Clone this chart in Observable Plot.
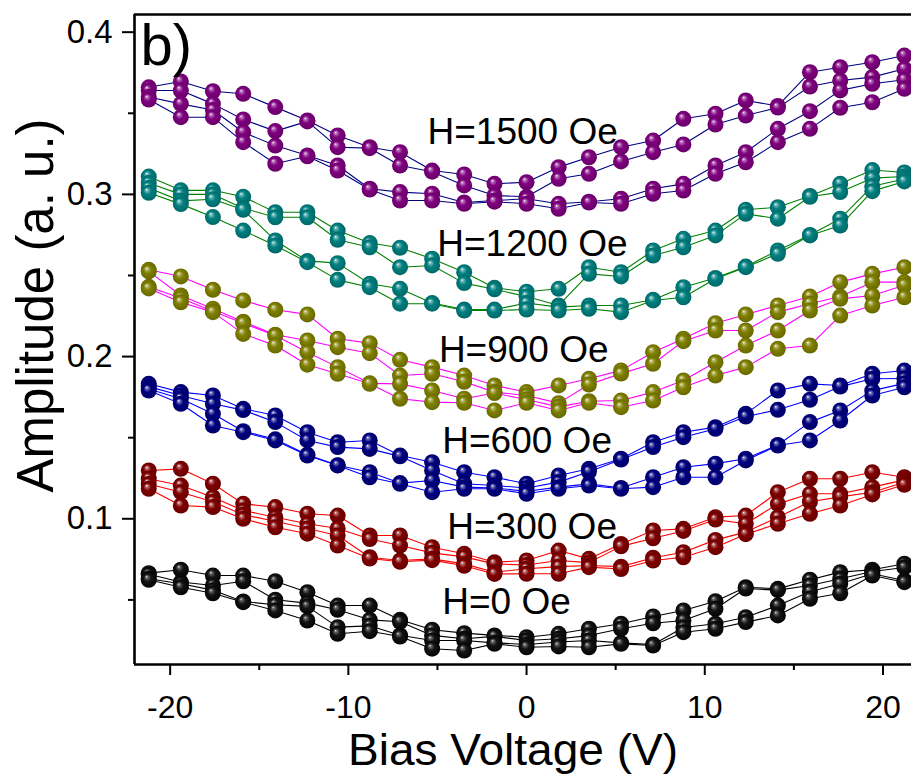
<!DOCTYPE html>
<html><head><meta charset="utf-8">
<script src="https://cdn.jsdelivr.net/npm/d3@7"></script>
<script src="https://cdn.jsdelivr.net/npm/@observablehq/plot@0.6"></script>
<style>body{margin:0;background:#fff}</style>
</head><body><div id="chart"></div>
<script>
// Bias voltage (V) for every sweep
const voltage = [-21.2,-19.4,-17.6,-15.9,-14.1,-12.3,-10.6,-8.8,-7.1,-5.3,-3.5,-1.8,0,1.8,3.5,5.3,7.1,8.8,10.6,12.3,14.1,15.9,17.6,19.4,21.2];

// Amplitude (a.u.), four sweeps per field
const h1500 = [
 [.3660,.3696,.3636,.3620,.3538,.3456,.3363,.3291,.3260,.3147,.3123,.3065,.3075,.3168,.3229,.3291,.3332,.3466,.3497,.3579,.3545,.3753,.3784,.3815,.3856],
 [.3640,.3640,.3558,.3462,.3390,.3450,.3291,.3285,.3178,.3140,.3055,.2993,.2985,.3096,.3127,.3203,.3260,.3308,.3431,.3486,.3535,.3665,.3702,.3723,.3774],
 [.3600,.3558,.3520,.3383,.3301,.3240,.3178,.3035,.3014,.3004,.2950,.2962,.2973,.2942,.2955,.2973,.3035,.3065,.3178,.3260,.3404,.3513,.3641,.3682,.3707],
 [.3585,.3476,.3476,.3322,.3189,.3235,.3147,.3030,.2962,.2962,.2942,.2955,.2942,.2911,.2950,.2942,.3004,.3024,.3127,.3198,.3322,.3404,.3534,.3568,.3651]
];
const h1200 = [
 [.311,.3025,.3025,.2985,.289,.289,.2777,.270,.2671,.2603,.252,.2424,.240,.2418,.2551,.252,.2654,.2726,.2777,.2905,.2921,.2990,.3065,.315,.3135],
 [.307,.300,.300,.2915,.2859,.2859,.272,.2674,.2551,.2562,.2453,.2415,.237,.2315,.251,.2494,.2623,.2674,.2747,.288,.285,.2985,.3014,.310,.311],
 [.304,.296,.297,.2905,.2716,.259,.2576,.2449,.2418,.233,.229,.229,.233,.2305,.2315,.2315,.235,.2428,.2485,.2555,.2654,.275,.285,.305,.3095],
 [.301,.294,.286,.2777,.2685,.2582,.2473,.2428,.2326,.2326,.2284,.2284,.229,.2284,.2295,.2274,.2346,.2366,.248,.2551,.2634,.2747,.2808,.302,.308]
];
const h900 = [
 [.2535,.2494,.2412,.2346,.2289,.2260,.2110,.2083,.1980,.1935,.1883,.1822,.1781,.1822,.1863,.1915,.2027,.2110,.2206,.2260,.2315,.2370,.2459,.2510,.2551],
 [.2525,.2377,.2295,.2215,.2135,.2099,.2058,.2021,.1883,.1894,.1845,.1781,.1760,.1713,.1828,.1895,.1956,.2095,.2161,.2161,.2274,.2326,.2370,.2459,.2459],
 [.2430,.2360,.2280,.2206,.2130,.2027,.1935,.1835,.1832,.1791,.1740,.1775,.1735,.1690,.1725,.1729,.1781,.1853,.1965,.2068,.2161,.2284,.2356,.2377,.2440],
 [.2420,.2335,.2274,.2140,.2068,.1950,.1894,.1832,.1740,.1719,.1715,.1668,.1715,.1668,.1715,.1688,.1729,.1811,.1883,.1935,.2048,.2068,.2253,.2315,.2366]
];
const h600 = [
 [.1832,.1781,.1760,.1678,.1637,.1534,.1472,.1483,.1390,.1349,.1287,.1256,.1216,.1267,.1308,.1370,.1472,.1534,.1565,.1647,.1791,.1832,.1822,.1894,.1914],
 [.1815,.1760,.1709,.1670,.1596,.1483,.1442,.1431,.1385,.1298,.1216,.1205,.1190,.1226,.1290,.1365,.1442,.1503,.1555,.1630,.1672,.1734,.1815,.1863,.1865],
 [.1800,.1740,.1647,.1540,.1490,.1395,.1330,.1287,.1220,.1236,.1195,.1190,.1170,.1195,.1215,.1190,.1256,.1318,.1340,.1370,.1455,.1596,.1668,.1790,.1835],
 [.1791,.1709,.1575,.1534,.1483,.1390,.1329,.1256,.1216,.1164,.1185,.1185,.1154,.1185,.1205,.1185,.1195,.1256,.1256,.1360,.1452,.1483,.1606,.1760,.1811]
];
const h300 = [
 [.1298,.1308,.1216,.1092,.1072,.1031,.1020,.0897,.0897,.0825,.0784,.0732,.0743,.0804,.0753,.0845,.0928,.0938,.1010,.1020,.1164,.1247,.1247,.1287,.1256],
 [.1247,.1205,.1133,.1051,.1010,.0969,.0940,.0875,.0835,.0790,.0765,.0722,.0715,.0743,.0730,.0830,.0880,.0925,.0995,.0969,.1092,.1154,.1154,.1195,.1240],
 [.1215,.1164,.1105,.1025,.0985,.0940,.0897,.0763,.0743,.0753,.0722,.0671,.0692,.0705,.0712,.0705,.0760,.0794,.0870,.0918,.1010,.1105,.1135,.1164,.1225],
 [.1185,.1082,.1072,.1000,.0948,.0908,.0835,.0755,.0735,.0745,.0710,.0660,.0661,.0661,.0702,.0690,.0743,.0763,.0825,.0905,.0969,.1031,.1082,.1150,.1210]
];
const h0 = [
 [.0665,.0686,.0650,.0650,.0615,.0547,.0465,.0465,.0377,.0316,.0295,.0281,.0270,.0291,.0322,.0353,.0398,.0435,.0492,.0578,.0568,.0624,.0671,.0686,.0723],
 [.0658,.0610,.0589,.0615,.0501,.0480,.0439,.0377,.0365,.0281,.0260,.0275,.0250,.0260,.0280,.0322,.0356,.0373,.0445,.0570,.0560,.0589,.0630,.0675,.0700],
 [.0630,.0600,.0560,.0490,.0470,.0460,.0332,.0340,.0282,.0250,.0250,.0235,.0225,.0240,.0250,.0235,.0225,.0330,.0353,.0393,.0465,.0550,.0599,.0661,.0620],
 [.0624,.0578,.0541,.0486,.0435,.0373,.0291,.0307,.0274,.0199,.0188,.0229,.0208,.0213,.0208,.0229,.0219,.0301,.0322,.0363,.0404,.0507,.0541,.0650,.0609]
];

const fieldLabels = ["H=0 Oe","H=300 Oe","H=600 Oe","H=900 Oe","H=1200 Oe","H=1500 Oe"];
const fieldSweeps = [h0, h300, h600, h900, h1200, h1500];
const markerColors = ["#000000","#800000","#000080","#808000","#008080","#800080"];
const lineColors = ["#000000","#ff0000","#0000ff","#ff00ff","#008000","#000080"];
// label anchor (left end, vertical middle) in data units
const labelVoltage = [-4.73,-4.45,-4.73,-4.92,-5.01,-5.56];
const labelAmplitude = [0.0486,0.0948,0.1478,0.2037,0.2695,0.3384];

const yTicks = [0.1,0.2,0.3,0.4];
const yMinor = [0.05,0.15,0.25,0.35];
const xTicks = [-20,-10,0,10,20];
const xMinor = [-15,-5,5,15];

const rows = [];
fieldSweeps.forEach((sweeps, g) => sweeps.forEach((vals, s) => vals.forEach((a, i) =>
  rows.push({V: voltage[i], A: a, g, key: g*10+s}))));
const labels = fieldLabels.map((t, i) => ({t, V: labelVoltage[i], A: labelAmplitude[i]}));

const font = "'Liberation Sans', Arial, Helvetica, sans-serif";
const xDom = [-22, 21.6], yDom = [0.01017, 0.4109];

const marks = [];
fieldSweeps.forEach((_, g) => {
  const d = rows.filter(r => r.g === g);
  marks.push(Plot.line(d, {x: "V", y: "A", z: "key", stroke: lineColors[g], strokeWidth: 1.1}));
  marks.push(Plot.dot(d, {x: "V", y: "A", r: 8, fill: `url(#ball${g})`, stroke: "none"}));
});

const chart = Plot.plot({
  width: 911, height: 777,
  marginTop: 14, marginBottom: 113, marginLeft: 134, marginRight: 0,
  style: {fontFamily: font, color: "#000", background: "#fff", overflow: "hidden"},
  x: {domain: xDom},
  y: {domain: yDom},
  marks: [
    ...marks,
    Plot.text(labels, {x: "V", y: "A", text: "t", fontSize: 37, textAnchor: "start", lineAnchor: "middle", fill: "#000"}),
    Plot.text(["b)"], {frameAnchor: "top-left", text: d => d, fontSize: 58, textAnchor: "start", lineAnchor: "top", dx: 6, dy: 9, fill: "#000"}),
    Plot.ruleX([xDom[0]], {stroke: "#000", strokeWidth: 2.6}),
    Plot.ruleY([yDom[0]], {stroke: "#000", strokeWidth: 2.6}),
    Plot.ruleY([yDom[1]], {stroke: "#000", strokeWidth: 2.6}),
    Plot.axisX({ticks: xTicks, tickSize: 11, tickPadding: 20, fontSize: 32, strokeWidth: 2, label: null, tickFormat: d => String(d)}),
    Plot.axisX({ticks: xMinor, tickSize: 6, strokeWidth: 2, label: null, tickFormat: () => ""}),
    Plot.axisY({ticks: yTicks, tickSize: 12, tickPadding: 10, fontSize: 33, strokeWidth: 2, label: null, tickFormat: d => d.toFixed(1)}),
    Plot.axisY({ticks: yMinor, tickSize: 6, strokeWidth: 2, label: null, tickFormat: () => ""}),
    Plot.text(["Bias Voltage (V)"], {frameAnchor: "bottom", text: d => d, fontSize: 44, textAnchor: "middle", lineAnchor: "middle", dx: -10, dy: 86, fill: "#000", className: "xtitle"}),
    Plot.text(["Amplitude (a. u.)"], {frameAnchor: "left", text: d => d, fontSize: 51, rotate: -90, textAnchor: "middle", lineAnchor: "middle", dx: -98, dy: -34, fill: "#000", className: "ytitle"})
  ]
});

// shaded sphere gradients for the markers
const defs = d3.select(chart).insert("defs", ":first-child");
markerColors.forEach((c, g) => {
  const base = d3.color(c);
  const black = c === "#000000";
  const grad = defs.append("radialGradient").attr("id", `ball${g}`)
    .attr("cx", "50%").attr("cy", "50%").attr("r", "55%").attr("fx", "36%").attr("fy", "30%");
  const hi = black ? "#e8e8e8" : "#ffffff";
  const mid = black ? "#666666" : d3.interpolateRgb(c, "#ffffff")(0.45);
  const body = black ? "#151515" : base.formatHex();
  const edge = black ? "#000000" : base.darker(0.7).formatHex();
  [[0, hi], [0.14, mid], [0.42, body], [1, edge]].forEach(([o, col]) =>
    grad.append("stop").attr("offset", o).attr("stop-color", col));
});

document.getElementById("chart").appendChild(chart);
// the reference's axis title is slightly wider than Arial's natural width
d3.select(chart).selectAll(".xtitle text").attr("textLength", 330).attr("lengthAdjust", "spacingAndGlyphs");
</script>
</body></html>
